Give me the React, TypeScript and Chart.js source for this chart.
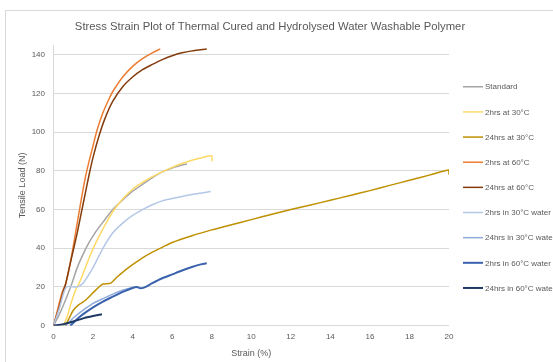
import React, { useEffect, useRef } from "react";
import { Chart, registerables } from "chart.js";

Chart.register(...registerables);

const chartTitle = "Stress Strain Plot of Thermal Cured and Hydrolysed Water Washable Polymer";
const xAxisTitle = "Strain (%)";
const yAxisTitle = "Tensile Load (N)";

const xMin = 0, xMax = 20, xStep = 2;
const yMin = 0, yMax = 145, yStep = 20;

const seriesLabels = [
  "Standard",
  "2hrs at 30°C",
  "24hrs at 30°C",
  "2hrs at 60°C",
  "24hrs at 60°C",
  "2hrs in 30°C water",
  "24hrs in 30°C water",
  "2hrs in 60°C water",
  "24hrs in 60°C water",
];
const seriesColors = [
  "#A5A5A5", "#FFD966", "#BF9000", "#ED7D31", "#843C0C",
  "#B4C7E7", "#8FAADC", "#3A62AD", "#203864",
];

const standardX = [0, 0.3, 0.6, 0.9, 1.2, 1.5, 1.8, 2.1, 2.5, 3.0, 3.5, 4.0, 4.5, 5.0, 5.5, 6.0, 6.5, 6.75];
const standardY = [0, 6, 13, 21, 30, 37, 43, 48, 53.5, 60, 65, 69.5, 73, 76.5, 79.5, 81.5, 83, 83.6];

const h2at30X = [0.5, 0.7, 0.9, 1.1, 1.3, 1.5, 1.8, 2.1, 2.5, 3.0, 3.5, 4.0, 4.5, 5.0, 5.5, 6.0, 6.5, 7.0, 7.5, 8.0, 8.0];
const h2at30Y = [0, 5, 12, 18, 22, 27, 35, 42, 50, 59, 65.5, 70.5, 74, 77, 79.5, 81.8, 83.8, 85.5, 86.8, 87.8, 85];

const h24at30X = [0.6, 0.8, 1.0, 1.3, 1.6, 2.0, 2.3, 2.5, 2.9, 3.2, 3.6, 4.0, 4.5, 5.0, 5.5, 6.0, 7.0, 8.0, 9.0, 10.0, 11.0, 12.0, 13.0, 14.0, 15.0, 16.0, 17.0, 18.0, 19.0, 20.0, 20.0];
const h24at30Y = [0, 4, 8, 11, 13, 17, 20, 21.5, 22, 25, 28.5, 31.5, 35, 38, 40.5, 43, 46.5, 49.5, 52.2, 54.8, 57.5, 60, 62.4, 64.8, 67.3, 69.8, 72.5, 75.1, 77.8, 80.5, 78];

const h2at60X = [0, 0.2, 0.4, 0.5, 0.6, 0.8, 1.0, 1.2, 1.4, 1.6, 1.8, 2.0, 2.2, 2.5, 2.8, 3.0, 3.5, 4.0, 4.5, 5.0, 5.4];
const h2at60Y = [0, 8, 16, 19, 21, 30, 41, 53, 65, 76, 85, 93, 101, 110, 117, 121, 128.5, 134, 138, 141, 143];

const h24at60X = [0, 0.3, 0.5, 0.6, 0.8, 1.0, 1.2, 1.4, 1.6, 1.8, 2.0, 2.3, 2.6, 3.0, 3.5, 4.0, 4.5, 5.0, 5.5, 6.0, 6.5, 7.0, 7.75];
const h24at60Y = [0, 10, 18, 21, 30, 39, 48, 58, 68, 78, 87, 98, 107, 116, 123.5, 128.5, 132.3, 135, 137.5, 139.5, 141, 142, 143];

const h2w30X = [0, 0.3, 0.65, 1.2, 1.5, 1.7, 2.0, 2.5, 3.0, 3.5, 4.0, 4.5, 5.0, 5.5, 6.0, 6.5, 7.0, 7.5, 7.95];
const h2w30Y = [0, 9, 20, 20, 22, 25, 30, 40, 48, 53, 57, 60, 62.5, 64.5, 65.7, 66.8, 67.8, 68.6, 69.3];

const h24w30X = [0.6, 0.8, 1.0, 1.5, 2.0, 2.5, 3.0, 3.5, 4.0, 4.3];
const h24w30Y = [0, 2, 4, 8, 11.5, 14, 16.3, 18.3, 19.8, 20.3];

const h2w60X = [0.85, 1.0, 1.2, 1.5, 2.0, 2.5, 3.0, 3.5, 4.0, 4.2, 4.4, 4.6, 5.0, 5.5, 6.0, 6.5, 7.0, 7.5, 7.75];
const h2w60Y = [0, 1.5, 3.5, 6, 9.5, 12.5, 15, 17.5, 19.5, 20, 19.3, 19.8, 22, 24.5, 26.5, 28.5, 30.3, 31.8, 32.3];

const h24w60X = [0, 0.5, 1.0, 1.5, 2.0, 2.45];
const h24w60Y = [0, 0.8, 2.2, 3.8, 5.0, 5.9];

const seriesX = [standardX, h2at30X, h24at30X, h2at60X, h24at60X, h2w30X, h24w30X, h2w60X, h24w60X];
const seriesY = [standardY, h2at30Y, h24at30Y, h2at60Y, h24at60Y, h2w30Y, h24w30Y, h2w60Y, h24w60Y];

const TEXT = "#595959";
const GRID = "#D9D9D9";
const FONT = '"Liberation Sans", Arial, sans-serif';

const borderPlugin = {
  id: "frameBorder",
  beforeDraw(chart: any) {
    const { ctx, width, height } = chart;
    ctx.save();
    ctx.fillStyle = "#FFFFFF";
    ctx.fillRect(0, 0, width, height);
    ctx.strokeStyle = GRID;
    ctx.lineWidth = 1;
    ctx.beginPath();
    ctx.moveTo(5.5, height + 2);
    ctx.lineTo(5.5, 10.5);
    ctx.lineTo(width + 2, 10.5);
    ctx.stroke();
    ctx.restore();
  },
};

const sideLegendPlugin = {
  id: "sideLegend",
  afterDraw(chart: any) {
    const { ctx, chartArea } = chart;
    const x0 = chartArea.right + 14;
    const y0 = chartArea.top + 41.7;
    const step = 25.15;
    ctx.save();
    ctx.font = `8px ${FONT}`;
    ctx.textBaseline = "middle";
    ctx.textAlign = "left";
    chart.data.datasets.forEach((ds: any, i: number) => {
      const y = y0 + i * step;
      ctx.strokeStyle = ds.borderColor;
      ctx.lineWidth = i >= 7 ? 2 : 1.5;
      ctx.beginPath();
      ctx.moveTo(x0, y);
      ctx.lineTo(x0 + 20, y);
      ctx.stroke();
      ctx.fillStyle = TEXT;
      ctx.fillText(ds.label, x0 + 22, y + 0.5);
    });
    ctx.restore();
  },
};

export default function App() {
  const canvasRef = useRef<HTMLCanvasElement | null>(null);

  useEffect(() => {
    const canvas = canvasRef.current;
    if (!canvas) return;
    const datasets = seriesLabels.map((label, i) => ({
      label,
      data: seriesX[i].map((x, j) => ({ x, y: seriesY[i][j] })),
      xAxisID: "x",
      yAxisID: "y",
      borderColor: seriesColors[i],
      backgroundColor: seriesColors[i],
      borderWidth: i >= 7 ? 2 : 1.5,
      pointRadius: 0,
      pointHoverRadius: 0,
      tension: 0.25,
      fill: false,
      order: -i,
    }));
    const chart = new Chart(canvas, {
      type: "line",
      data: { datasets },
      plugins: [borderPlugin, sideLegendPlugin],
      options: {
        animation: false,
        responsive: false,
        maintainAspectRatio: false,
        layout: { padding: { left: 0, right: 13, top: 0, bottom: 0 } },
        plugins: {
          legend: { display: false },
          tooltip: { enabled: false },
          title: {
            display: true,
            text: chartTitle,
            color: TEXT,
            font: { family: FONT, size: 11.3, weight: "normal" },
            padding: { top: 20, bottom: 11.5 },
          },
        },
        scales: {
          x: {
            type: "linear",
            min: xMin,
            max: xMax,
            ticks: { stepSize: xStep, color: TEXT, font: { family: FONT, size: 8 }, padding: 6.5, maxRotation: 0 },
            grid: { display: false, drawTicks: false },
            border: { display: false },
            title: {
              display: true,
              text: xAxisTitle,
              color: TEXT,
              font: { family: FONT, size: 9 },
              padding: { top: 0, bottom: 3 },
            },
            afterFit(scale: any) {
              scale.height = 36.3;
            },
          },
          y: {
            type: "linear",
            position: "left",
            min: yMin,
            max: yMax,
            ticks: { stepSize: yStep, color: TEXT, font: { family: FONT, size: 8 }, padding: 8.5 },
            afterBuildTicks(scale: any) {
              scale.ticks = scale.ticks.filter((t: any) => t.value % yStep === 0);
            },
            grid: { color: GRID, lineWidth: 1, drawTicks: false },
            border: { display: true, color: GRID, width: 1 },
            title: {
              display: true,
              text: yAxisTitle,
              color: TEXT,
              font: { family: FONT, size: 9 },
              padding: { top: 17.6, bottom: 0 },
            },
            afterFit(scale: any) {
              scale.width = 53.5;
            },
          },
          legendSpace: {
            type: "linear",
            position: "right",
            display: true,
            min: yMin,
            max: yMax,
            ticks: { display: false },
            grid: { display: false, drawTicks: false },
            border: { display: false },
            afterFit(scale: any) {
              scale.width = 91;
            },
          },
        },
      },
    });
    return () => chart.destroy();
  }, []);

  return (
    <div style={{ position: "absolute", left: 0, top: 0, width: 553, height: 362, overflow: "hidden" }}>
      <canvas ref={canvasRef} width={553} height={362} style={{ display: "block" }} />
    </div>
  );
}
